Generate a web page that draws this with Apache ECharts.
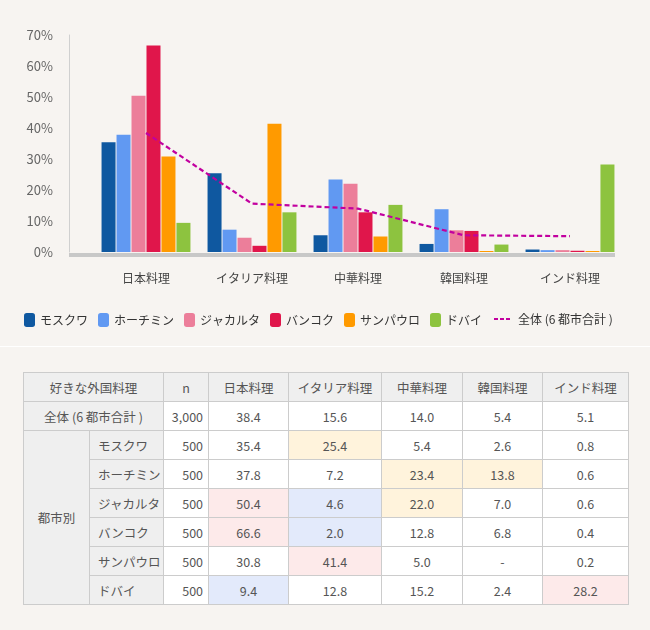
<!DOCTYPE html>
<html>
<head>
<meta charset="utf-8">
<script src="https://cdn.jsdelivr.net/npm/echarts@6/dist/echarts.min.js"></script>
<style>
  body { margin: 0; background: #f7f4f1; font-family: "Noto Sans CJK JP", "Noto Sans", sans-serif; }
  #chart { width: 650px; height: 346px; }
  .divider { width: 650px; height: 1px; background: #fff; }
  #table {
    position: absolute; left: 23px; top: 372px; width: 605px;
    border-collapse: collapse; font-size: 12.5px; color: #555; table-layout: fixed;
  }
  #table td, #table th { border: 1px solid #ccc; height: 28px; padding: 0; text-align: center; font-weight: normal; background: #fff; }
  #table .head { background: #efefef; }
  #table .city { background: #efefef; text-align: left; padding-left: 8px; }
  #table .n { text-align: right; padding-right: 5px; }
  #table .hi-up { background: #fdeaea; }
  #table .hi-mid { background: #fff3dc; }
  #table .hi-down { background: #e3eafb; }
</style>
</head>
<body>
<div id="chart"></div>
<div class="divider"></div>
<table id="table"></table>

<script>
// categories / cities
const cuisines = ['日本料理', 'イタリア料理', '中華料理', '韓国料理', 'インド料理'];
const cities = ['モスクワ', 'ホーチミン', 'ジャカルタ', 'バンコク', 'サンパウロ', 'ドバイ'];
const cityColors = ['#0f58a0', '#6199f2', '#ec7e9a', '#e0164b', '#ff9a00', '#8dc33f'];
const totalName = '全体 (6 都市合計 )';
const yTicks = [0, 10, 20, 30, 40, 50, 60, 70];

// values (%)
const totalN = '3,000';
const cityN = [500, 500, 500, 500, 500, 500];
const total = [38.4, 15.6, 14.0, 5.4, 5.1];
const moscow = [35.4, 25.4, 5.4, 2.6, 0.8];
const hochiminh = [37.8, 7.2, 23.4, 13.8, 0.6];
const jakarta = [50.4, 4.6, 22.0, 7.0, 0.6];
const bangkok = [66.6, 2.0, 12.8, 6.8, 0.4];
const saopaulo = [30.8, 41.4, 5.0, null, 0.2];
const dubai = [9.4, 12.8, 15.2, 2.4, 28.2];

const cityValues = [moscow, hochiminh, jakarta, bangkok, saopaulo, dubai];

const fontFamily = '"Noto Sans CJK JP", "Noto Sans", sans-serif';
const lineColor = '#c2009f';

const chart = echarts.init(document.getElementById('chart'));

// width of the city legend, so the second legend can follow it
const ctx = document.createElement('canvas').getContext('2d');
ctx.font = '12px ' + fontFamily;
let legendEnd = 19;
cities.forEach((c, i) => {
  legendEnd += 11 + 5 + ctx.measureText(c).width + (i < cities.length - 1 ? 10 : 0);
});

const barSeries = cities.map((name, i) => ({
  name: name,
  type: 'bar',
  data: cityValues[i].map(v => (v === null ? 0 : v)),
  barWidth: 14,
  barGap: '7%',
  barMinHeight: 1,
  itemStyle: { color: cityColors[i] },
  emphasis: { disabled: true }
}));

const lineSeries = {
  name: totalName,
  type: 'line',
  data: total,
  symbol: 'none',
  z: 5,
  lineStyle: { color: lineColor, width: 2.2, type: [5, 3] },
  itemStyle: { color: lineColor }
};

chart.setOption({
  animation: false,
  textStyle: { fontFamily: fontFamily },
  grid: { left: 93, right: 27, top: 35, bottom: 94 },
  xAxis: {
    type: 'category',
    data: cuisines,
    axisLine: { show: false },
    axisTick: { show: false },
    axisLabel: { color: '#444', fontSize: 12, margin: 20 }
  },
  yAxis: {
    type: 'value',
    min: yTicks[0],
    max: yTicks[yTicks.length - 1],
    interval: 10,
    offset: 24,
    axisLine: { show: true, lineStyle: { color: '#d0d0d0' } },
    axisTick: { show: false },
    splitLine: { show: false },
    axisLabel: { formatter: '{value}%', color: '#666', fontSize: 13, margin: 16 }
  },
  legend: [
    {
      data: cities,
      left: 19,
      top: 308,
      itemWidth: 11,
      itemHeight: 14,
      itemGap: 10,
      selectedMode: false,
      textStyle: { color: '#333', fontSize: 12 }
    },
    {
      data: [{
        name: totalName,
        icon: 'path://M0,0L4,0L4,2L0,2Z M6,0L10,0L10,2L6,2Z M12,0L16,0L16,2L12,2Z',
        itemStyle: { color: lineColor }
      }],
      left: legendEnd + 12,
      top: 308,
      itemWidth: 16,
      itemHeight: 2.5,
      selectedMode: false,
      textStyle: { color: '#333', fontSize: 12, padding: [0, 0, 0, 3] }
    }
  ],
  series: barSeries.concat([lineSeries])
});

// grey base band under the bars, from the y axis line
const y0 = chart.convertToPixel({ yAxisIndex: 0 }, 0);
chart.setOption({
  graphic: [{
    type: 'rect',
    shape: { x: 69, y: y0 + 1, width: 546, height: 4 },
    style: { fill: '#c8c8c8' },
    silent: true
  }]
});

// table
const colWidths = [66, 74, 45, 80, 93, 81, 80, 86];

function cellClass(v, t) {
  if (v === null) return '';
  const d = v - t;
  if (d >= 10) return 'hi-up';
  if (d >= 5) return 'hi-mid';
  if (d <= -10) return 'hi-down';
  return '';
}

let html = '<colgroup>' + colWidths.map(w => '<col style="width:' + w + 'px">').join('') + '</colgroup>';
html += '<tr><th class="head" colspan="2">好きな外国料理</th><th class="head">n</th>' +
  cuisines.map(c => '<th class="head">' + c + '</th>').join('') + '</tr>';
html += '<tr><td class="head" colspan="2">' + totalName + '</td><td class="n">' + totalN + '</td>' +
  total.map(v => '<td>' + v.toFixed(1) + '</td>').join('') + '</tr>';
cities.forEach((name, i) => {
  html += '<tr>';
  if (i === 0) html += '<td class="head" rowspan="' + cities.length + '">都市別</td>';
  html += '<td class="city">' + name + '</td><td class="n">' + cityN[i] + '</td>';
  html += cityValues[i].map((v, j) =>
    '<td class="' + cellClass(v, total[j]) + '">' + (v === null ? '-' : v.toFixed(1)) + '</td>').join('');
  html += '</tr>';
});
document.getElementById('table').innerHTML = html;
</script>
</body>
</html>
